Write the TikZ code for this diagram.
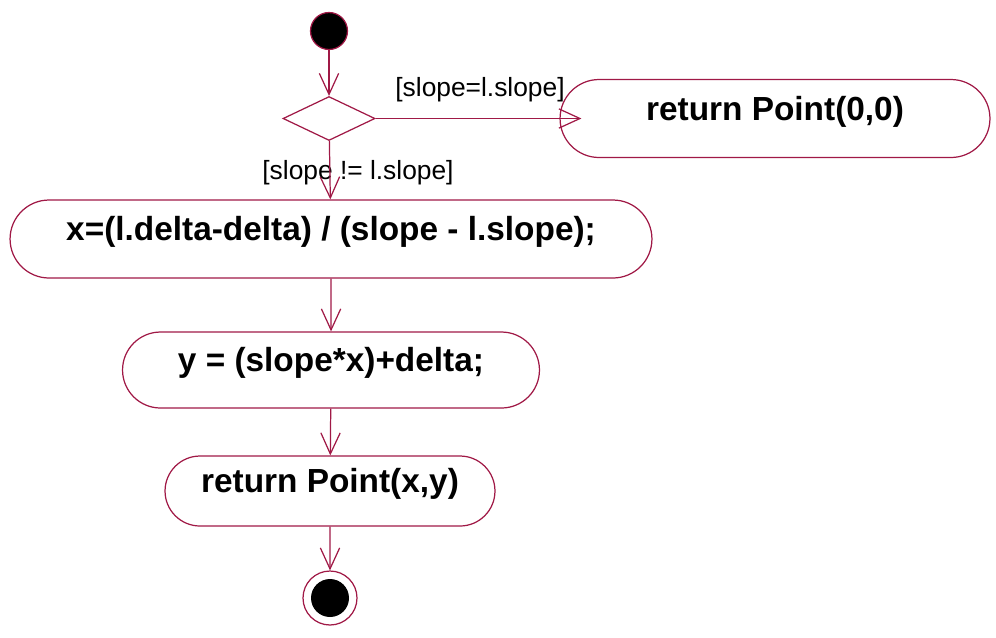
\documentclass[tikz,border=0pt]{standalone}
\usepackage{fontspec}
\setmainfont{Liberation Sans}
\usetikzlibrary{arrows.meta,shapes.geometric,shapes.misc}
\definecolor{umlred}{RGB}{160,25,70}

\begin{document}
\begin{tikzpicture}[x=0.02cm,y=-0.02cm,
  flow/.style={umlred,line width=0.7pt,-{Straight Barb[length=12pt,width=11pt]}},
  action/.style={rounded rectangle,draw=umlred,line width=0.7pt,inner sep=0pt,
    text height=14pt,text depth=12pt,font=\fontsize{19}{22}\selectfont\bfseries},
  guard/.style={font=\fontsize{15}{18}\selectfont,inner sep=1pt}]
\useasboundingbox (0,0) rectangle (996,637);

\node[circle,fill=black,draw=umlred,line width=0.7pt,minimum size=0.74cm,inner sep=0pt] (start) at (329,31) {};
\node[diamond,draw=umlred,line width=0.7pt,minimum width=1.84cm,minimum height=0.88cm,inner sep=0pt] (choice) at (329,118.5) {};
\node[action,minimum width=8.6cm,minimum height=1.56cm] (ret0) at (775,118.5) {return Point(0,0)};
\node[action,minimum width=12.84cm,minimum height=1.56cm] (calcx) at (331,239) {x=(l.delta-delta) / (slope - l.slope);};
\node[action,minimum width=8.34cm,minimum height=1.52cm] (calcy) at (331,370) {y = (slope*x)+delta;};
\node[action,minimum width=6.6cm,minimum height=1.4cm] (retxy) at (330,491) {return Point(x,y)};
\node[circle,draw=umlred,line width=0.7pt,minimum size=1.08cm,inner sep=0pt] (stop) at (330,598) {};
\fill (stop) circle [radius=0.38cm];

\node[guard] (gsame) at (480,90) {[slope=l.slope]};
\node[guard] (gdiff) at (358,173) {[slope != l.slope]};

\draw[flow] (start) -- (choice);
\draw[flow,shorten >=-0.44cm] (choice.east) -- (ret0.west);
\draw[flow] (choice) -- (calcx);
\draw[flow] (calcx) -- (calcy);
\draw[flow] (calcy) -- (retxy);
\draw[flow] (retxy) -- (stop);

\end{tikzpicture}
\end{document}
